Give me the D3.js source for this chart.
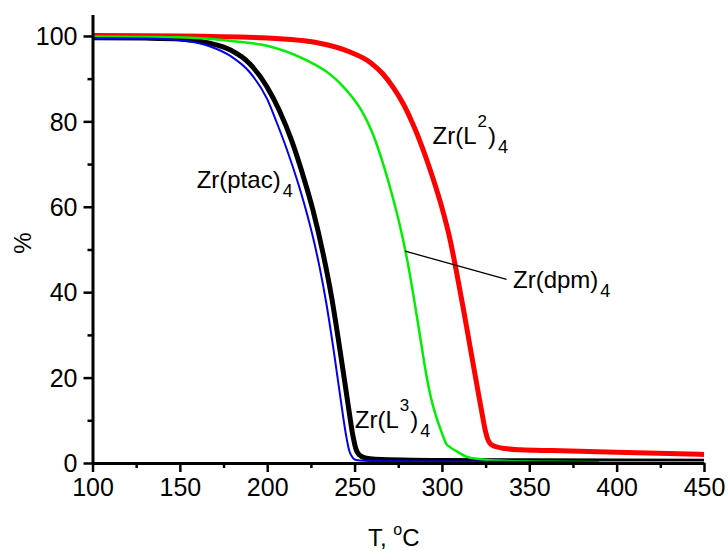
<!DOCTYPE html>
<html><head><meta charset="utf-8">
<script src="https://cdn.jsdelivr.net/npm/d3@7"></script>
<style>
html,body{margin:0;padding:0;background:#fff;}
svg{display:block;font-family:"Liberation Sans",Arial,sans-serif;}
</style></head>
<body>
<svg id="chart" width="728" height="551"></svg>
<script>
// ---- data ----
const xMajorTicks = [100,150,200,250,300,350,400,450];
const xMinorTicks = [125,175,225,275,325,375,425];
const yMajorTicks = [0,20,40,60,80,100];
const yMinorTicks = [10,30,50,70,90];

const ptacT = [100,130,150,167,179,190,200,205,211,217,222,226,230,234,238,242,245,247,249,251,256,270,330,390];
const ptacV = [99.5,99.4,99.0,97.6,95.3,91.5,85.2,80.2,73.7,66.4,59.5,53.2,45.8,37,26.5,15,6.8,2.8,1.2,0.7,0.5,0.4,0.3,0.2];

const L3T = [100,130,150,167,179,190,200,207,214,220,226,232,237,242,246,249,251,253,256,262,300,350,450];
const L3V = [99.6,99.5,99.3,98.3,96.7,93.5,88,82.5,75.5,68,59.5,49,38.5,25.5,14.5,6.5,3,1.8,1.2,0.9,0.6,0.5,0.4];

const dpmT = [100,150,182,201,220,236,242,248,254,260,266,272,276,280,284,288,291,294,297,300,302.5,305,309,314,322,335,360,400,450];
const dpmV = [99.9,99.7,98.7,97.6,94.8,91,88.8,86,82.5,77.5,70.5,62,55.5,47.8,38.5,28.3,20.8,14.8,10.5,7,4.5,3.6,2.6,1.5,0.9,0.5,0.3,0.2,0.2];

const L2T = [100,150,200,230,247,259,266,272,278,284,290,295,300,304.5,308,312,316,320,323,325,326.5,328,331,336,345,363,400,450];
const L2V = [100.1,100,99.5,98.3,96.3,93.8,91.2,88,84,78.8,72.5,66.5,59.8,52.6,45.5,36.7,27.5,18.3,11.5,7.3,5.3,4.4,3.8,3.4,3.1,2.9,2.5,2.0];

const seriesColors = ["#000000","#ff0000","#00ee00","#0000ee"];
const seriesWidths = [5,5,2.5,2];

// label anchors in data coords
const labelT = [250.1, 294.6, 340.7, 159.6];
const labelV = [8.3, 74.7, 40.9, 64.5];
const leaderFrom = [279, 49.6];
const leaderTo = [337, 43.0];

// ---- chart ----
const svg = d3.select("#chart");
const x = d3.scaleLinear().domain([100,450]).range([92.5,704]);
const y = d3.scaleLinear().domain([0,105]).range([463,14.6]);

const series = [
  {T:L3T, V:L3V},
  {T:L2T, V:L2V},
  {T:dpmT, V:dpmV},
  {T:ptacT, V:ptacV}
];

const line = d3.line().x(d=>x(d[0])).y(d=>y(d[1])).curve(d3.curveMonotoneX);

series.forEach((s,i)=>{
  const pts = s.T.map((t,j)=>[t,s.V[j]]);
  svg.append("path").datum(pts)
    .attr("d", line)
    .attr("fill","none")
    .attr("stroke", seriesColors[i])
    .attr("stroke-width", seriesWidths[i])
    .attr("stroke-linejoin","round");
});

// leader line
svg.append("line")
  .attr("x1", x(leaderFrom[0])).attr("y1", y(leaderFrom[1]))
  .attr("x2", x(leaderTo[0])).attr("y2", y(leaderTo[1]))
  .attr("stroke","#000").attr("stroke-width",1.3);

// axes
const gx = svg.append("g").attr("transform","translate(0,463)");
gx.call(d3.axisBottom(x).tickValues(xMajorTicks).tickSize(9).tickSizeOuter(0).tickPadding(6).tickFormat(d3.format("d")));
const gxm = svg.append("g").attr("transform","translate(0,463)");
gxm.call(d3.axisBottom(x).tickValues(xMinorTicks).tickSize(5).tickSizeOuter(0).tickFormat(""));
gxm.select(".domain").remove();

const gy = svg.append("g").attr("transform","translate(92.5,0)");
gy.call(d3.axisLeft(y).tickValues(yMajorTicks).tickSize(9).tickSizeOuter(0).tickPadding(6).tickFormat(d3.format("d")));
const gym = svg.append("g").attr("transform","translate(92.5,0)");
gym.call(d3.axisLeft(y).tickValues(yMinorTicks).tickSize(5).tickSizeOuter(0).tickFormat(""));
gym.select(".domain").remove();

svg.selectAll(".domain").attr("stroke","#000").attr("stroke-width",3);
svg.selectAll(".tick line").attr("stroke","#000").attr("stroke-width",2.5);
svg.selectAll(".tick text").attr("font-size",25).attr("font-family","'Liberation Sans',Arial,sans-serif").attr("fill","#000");
gx.selectAll(".tick text").attr("dy","0.71em");
gy.selectAll(".tick text").attr("dy","0.35em");

// axis titles
svg.append("text").attr("transform","translate(31,243) rotate(-90)")
  .attr("text-anchor","middle").attr("font-size",24).text("%");
const xt = svg.append("text").attr("x",368).attr("y",546).attr("font-size",24);
xt.append("tspan").text("T, ");
xt.append("tspan").attr("font-size",16).attr("dy",-11).text("o");
xt.append("tspan").attr("dy",11).text("C");

// series labels with super/subscripts
function chemLabel(tx, ty, base, sup, sub){
  const t = svg.append("text").attr("x",tx).attr("y",ty).attr("font-size",24).attr("fill","#000");
  if(sup!==null){
    t.append("tspan").text(base);
    t.append("tspan").attr("font-size",17).attr("dx",1).attr("dy",-17).text(sup);
    t.append("tspan").attr("dx",1).attr("dy",17).text(")");
  } else {
    t.append("tspan").text(base + ")");
  }
  t.append("tspan").attr("font-size",18).attr("dx",2).attr("dy",9).text(sub);
}
chemLabel(x(labelT[0]), y(labelV[0]), "Zr(L", "3", "4");
chemLabel(x(labelT[1]), y(labelV[1]), "Zr(L", "2", "4");
chemLabel(x(labelT[2]), y(labelV[2]), "Zr(dpm", null, "4");
chemLabel(x(labelT[3]), y(labelV[3]), "Zr(ptac", null, "4");
</script>
</body></html>
